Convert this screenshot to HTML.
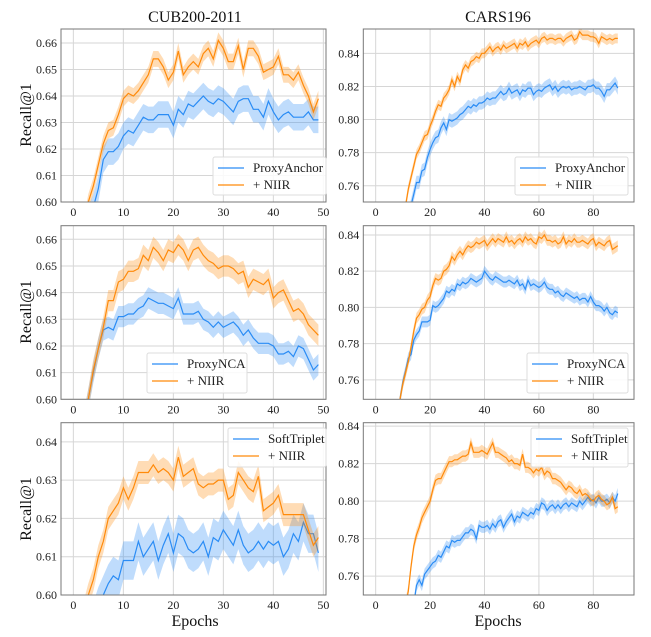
<!DOCTYPE html>
<html><head><meta charset="utf-8"><style>
html,body{margin:0;padding:0;background:#fff;width:651px;height:637px;overflow:hidden;}
svg{display:block;font-family:"Liberation Serif",serif;}
</style></head><body>
<svg id="chart" width="651" height="637" viewBox="0 0 651 637"></svg>
<script>
// ---- data ----
const cubEpochs = Array.from({length:50},(_,i)=>i);
const carsEpochs = Array.from({length:90},(_,i)=>i);
const cubTicksX = [0,10,20,30,40,50];
const carsTicksX = [0,20,40,60,80];
const cubTicksY12 = [0.60,0.61,0.62,0.63,0.64,0.65,0.66];
const cubTicksY3 = [0.60,0.61,0.62,0.63,0.64];
const carsTicksY = [0.76,0.78,0.80,0.82,0.84];

const cubPA = [0.55,0.57,0.585,0.593,0.598,0.605,0.616,0.619,0.619,0.621,0.625,0.627,0.626,0.629,0.632,0.631,0.631,0.633,0.633,0.633,0.629,0.635,0.633,0.637,0.636,0.638,0.640,0.638,0.637,0.639,0.638,0.636,0.634,0.638,0.639,0.639,0.635,0.635,0.632,0.638,0.634,0.631,0.633,0.634,0.632,0.632,0.632,0.634,0.631,0.631];
const cubPAnir = [0.56,0.58,0.59,0.600,0.606,0.614,0.622,0.627,0.628,0.633,0.639,0.641,0.640,0.642,0.645,0.648,0.654,0.654,0.651,0.646,0.649,0.657,0.648,0.651,0.653,0.651,0.656,0.658,0.654,0.661,0.658,0.653,0.653,0.659,0.650,0.658,0.658,0.655,0.649,0.650,0.651,0.655,0.648,0.648,0.646,0.649,0.644,0.640,0.634,0.639];
const cubNCA = [0.55,0.57,0.59,0.600,0.610,0.619,0.626,0.627,0.626,0.631,0.631,0.632,0.632,0.634,0.635,0.638,0.637,0.636,0.636,0.635,0.634,0.638,0.632,0.632,0.632,0.633,0.630,0.629,0.627,0.629,0.627,0.628,0.629,0.627,0.624,0.626,0.623,0.621,0.621,0.621,0.620,0.617,0.617,0.618,0.616,0.620,0.619,0.615,0.611,0.613];
const cubNCAnir = [0.55,0.57,0.59,0.600,0.611,0.619,0.627,0.637,0.637,0.644,0.645,0.648,0.648,0.649,0.654,0.652,0.657,0.655,0.652,0.656,0.655,0.658,0.656,0.652,0.656,0.657,0.654,0.652,0.651,0.649,0.650,0.650,0.649,0.647,0.648,0.642,0.645,0.644,0.643,0.645,0.638,0.640,0.641,0.637,0.633,0.634,0.632,0.628,0.626,0.624];
const cubST = [0.57,0.58,0.585,0.59,0.593,0.597,0.600,0.603,0.605,0.604,0.609,0.609,0.609,0.614,0.610,0.612,0.614,0.609,0.613,0.616,0.611,0.616,0.615,0.612,0.611,0.612,0.614,0.610,0.615,0.614,0.617,0.615,0.613,0.617,0.613,0.611,0.612,0.614,0.612,0.614,0.613,0.614,0.610,0.612,0.616,0.614,0.619,0.616,0.616,0.611];
const cubSTnir = [0.58,0.59,0.595,0.600,0.604,0.610,0.614,0.620,0.622,0.624,0.628,0.625,0.628,0.632,0.632,0.632,0.634,0.632,0.633,0.632,0.630,0.636,0.631,0.632,0.633,0.629,0.628,0.629,0.629,0.630,0.630,0.625,0.626,0.632,0.630,0.628,0.627,0.631,0.622,0.623,0.624,0.626,0.621,0.621,0.621,0.621,0.621,0.617,0.613,0.615];

const carsPA = [0.58,0.62,0.65,0.67,0.69,0.70,0.71,0.72,0.725,0.73,0.735,0.738,0.742,0.748,0.755,0.762,0.762,0.769,0.770,0.777,0.782,0.786,0.789,0.790,0.795,0.798,0.794,0.800,0.799,0.800,0.801,0.803,0.804,0.806,0.808,0.807,0.809,0.808,0.810,0.810,0.811,0.813,0.812,0.813,0.813,0.815,0.817,0.815,0.816,0.819,0.816,0.817,0.818,0.815,0.818,0.817,0.819,0.819,0.815,0.817,0.818,0.817,0.819,0.820,0.821,0.818,0.820,0.817,0.819,0.820,0.819,0.820,0.818,0.819,0.819,0.820,0.819,0.818,0.820,0.820,0.821,0.819,0.819,0.817,0.814,0.818,0.818,0.820,0.822,0.819];
const carsPAnir = [0.60,0.64,0.67,0.69,0.70,0.71,0.72,0.73,0.735,0.74,0.745,0.748,0.758,0.765,0.772,0.779,0.782,0.786,0.790,0.791,0.796,0.800,0.805,0.809,0.808,0.813,0.815,0.818,0.824,0.820,0.826,0.823,0.830,0.833,0.831,0.835,0.836,0.838,0.837,0.840,0.840,0.842,0.844,0.841,0.843,0.844,0.842,0.845,0.843,0.844,0.845,0.846,0.843,0.846,0.845,0.847,0.844,0.846,0.847,0.848,0.846,0.849,0.850,0.848,0.849,0.849,0.848,0.849,0.849,0.847,0.849,0.850,0.851,0.848,0.849,0.853,0.851,0.851,0.851,0.850,0.850,0.849,0.846,0.850,0.849,0.848,0.849,0.848,0.849,0.849];
const carsNCA = [0.55,0.59,0.62,0.65,0.67,0.69,0.71,0.725,0.738,0.750,0.759,0.765,0.772,0.774,0.782,0.785,0.787,0.792,0.792,0.792,0.793,0.801,0.800,0.801,0.803,0.805,0.809,0.808,0.810,0.809,0.813,0.812,0.814,0.813,0.814,0.816,0.815,0.814,0.815,0.816,0.820,0.818,0.816,0.815,0.817,0.816,0.815,0.814,0.814,0.815,0.814,0.813,0.815,0.812,0.813,0.810,0.815,0.812,0.813,0.812,0.811,0.812,0.814,0.811,0.810,0.810,0.808,0.809,0.807,0.806,0.808,0.807,0.806,0.805,0.806,0.804,0.805,0.805,0.803,0.806,0.803,0.801,0.801,0.800,0.798,0.800,0.797,0.796,0.798,0.797];
const carsNCAnir = [0.55,0.59,0.62,0.65,0.67,0.69,0.71,0.725,0.738,0.750,0.758,0.764,0.770,0.778,0.787,0.794,0.796,0.799,0.800,0.804,0.806,0.812,0.816,0.815,0.816,0.820,0.821,0.823,0.828,0.826,0.829,0.831,0.829,0.832,0.834,0.833,0.834,0.836,0.835,0.836,0.837,0.834,0.836,0.838,0.836,0.838,0.837,0.836,0.839,0.836,0.837,0.835,0.837,0.838,0.836,0.839,0.837,0.838,0.836,0.835,0.839,0.838,0.840,0.837,0.837,0.836,0.837,0.835,0.836,0.839,0.835,0.837,0.836,0.838,0.836,0.836,0.837,0.836,0.835,0.837,0.838,0.834,0.836,0.835,0.834,0.836,0.837,0.832,0.833,0.834];
const carsST = [0.40,0.45,0.50,0.54,0.58,0.61,0.64,0.66,0.68,0.70,0.71,0.72,0.73,0.738,0.745,0.755,0.758,0.755,0.761,0.763,0.765,0.767,0.768,0.771,0.770,0.773,0.776,0.775,0.779,0.778,0.779,0.779,0.781,0.783,0.783,0.785,0.784,0.780,0.787,0.786,0.786,0.787,0.785,0.788,0.786,0.789,0.790,0.786,0.789,0.791,0.793,0.789,0.792,0.791,0.794,0.793,0.792,0.794,0.793,0.796,0.795,0.799,0.798,0.795,0.797,0.798,0.796,0.798,0.796,0.798,0.799,0.797,0.799,0.798,0.797,0.800,0.798,0.800,0.802,0.800,0.801,0.799,0.802,0.800,0.800,0.801,0.799,0.802,0.800,0.804];
const carsSTnir = [0.45,0.50,0.55,0.59,0.62,0.65,0.67,0.69,0.71,0.73,0.740,0.745,0.752,0.765,0.776,0.782,0.786,0.791,0.794,0.797,0.800,0.806,0.811,0.812,0.812,0.815,0.818,0.821,0.821,0.822,0.822,0.823,0.824,0.824,0.825,0.831,0.826,0.826,0.826,0.827,0.826,0.825,0.828,0.831,0.826,0.826,0.825,0.824,0.823,0.821,0.822,0.820,0.820,0.819,0.825,0.818,0.818,0.817,0.815,0.817,0.816,0.818,0.814,0.816,0.815,0.812,0.812,0.811,0.810,0.808,0.806,0.808,0.807,0.805,0.804,0.806,0.803,0.804,0.803,0.801,0.800,0.802,0.803,0.801,0.800,0.798,0.799,0.802,0.796,0.797];

const bandCub = [0.005,0.003,0.004,0.004,0.005,0.003];
const bandCars = [0.004,0.003,0.003,0.003,0.003,0.003];

const BLUE='#2a8cf5', ORANGE='#ff8a0a';
const NS='http://www.w3.org/2000/svg';
const svg=document.getElementById('chart');
function mk(tag,attrs,parent){const e=document.createElementNS(NS,tag);for(const k in attrs)e.setAttribute(k,attrs[k]);(parent||svg).appendChild(e);return e;}

let clipId=0;
function panel(p){
  const g=mk('g',{});
  
  
  const sx=v=>p.L+(v-p.xmin)/(p.xmax-p.xmin)*(p.R-p.L);
  const sy=v=>p.B-(v-p.ymin)/(p.ymax-p.ymin)*(p.B-p.T);
  mk('rect',{x:p.L,y:p.T,width:p.R-p.L,height:p.B-p.T,fill:'#fff'},g);
  p.xt.forEach(t=>{const l=mk('line',{x1:sx(t),x2:sx(t),y1:p.T,y2:p.B,stroke:'#d6d6d6','stroke-width':1},g);
    
    const tx=mk('text',{x:sx(t),y:p.B+14,'font-size':12,'text-anchor':'middle',fill:'#222'},g);tx.textContent=t;
    });
  p.yt.forEach(t=>{const l=mk('line',{x1:p.L,x2:p.R,y1:sy(t),y2:sy(t),stroke:'#d6d6d6','stroke-width':1},g);
    
    const tx=mk('text',{x:p.L-4,y:sy(t)+4,'font-size':12,'text-anchor':'end',fill:'#222'},g);tx.textContent=t.toFixed(2);
    });
  const id='c'+(clipId++);
  const cp=mk('clipPath',{id:id},g);mk('rect',{x:p.L,y:p.T,width:p.R-p.L,height:p.B-p.T},cp);
  const dg=mk('g',{'clip-path':'url(#'+id+')'},g);
  p.series.forEach(s=>{
    let up='',lo=[];
    p.xs.forEach((x,i)=>{up+=(i?'L':'M')+sx(x).toFixed(1)+','+sy(s.v[i]+s.b).toFixed(1);lo.push('L'+sx(x).toFixed(1)+','+sy(s.v[i]-s.b).toFixed(1));});
    const band=mk('path',{d:up+lo.reverse().join('')+'Z',fill:s.c,'fill-opacity':0.3,stroke:'none'},dg);
    
    const d=p.xs.map((x,i)=>(i?'L':'M')+sx(x).toFixed(1)+','+sy(s.v[i]).toFixed(1)).join('');
    const ln=mk('path',{d:d,fill:'none',stroke:s.c,'stroke-width':1.2},dg);
    
  });
  mk('rect',{x:p.L,y:p.T,width:p.R-p.L,height:p.B-p.T,fill:'none',stroke:'#777','stroke-width':1},g);
  const lg=mk('g',{},g);
  
  const [lx,ly,lw,lh]=p.leg;
  mk('rect',{x:lx,y:ly,width:lw,height:lh,fill:'#fff','fill-opacity':0.85,stroke:'#ddd',rx:2},lg);
  p.series.forEach((s,i)=>{
    const yy=ly+11+i*17;
    mk('line',{x1:lx+5,x2:lx+31,y1:yy,y2:yy,stroke:s.c,'stroke-width':1.3},lg);
    const t=mk('text',{x:lx+40,y:yy+4,'font-size':13,fill:'#222'},lg);t.textContent=s.label;
    
  });
}
const rows=[{T:29,B:202},{T:225.7,B:399.3},{T:422.7,B:595}];
const Lx={L:61,R:326,xmin:-2.47,xmax:50.53};
const Rx={L:363.3,R:634,xmin:-4.55,xmax:94.95};
panel({name:'cub-proxyanchor-panel',...Lx,...rows[0],ymin:0.60,ymax:0.6653,xt:cubTicksX,yt:cubTicksY12,xs:cubEpochs,leg:[213,157,113,38],
  series:[{n:'proxyanchor',v:cubPA,b:bandCub[0],c:BLUE,label:'ProxyAnchor'},{n:'nir',v:cubPAnir,b:bandCub[1],c:ORANGE,label:'+ NIIR'}]});
panel({name:'cars-proxyanchor-panel',...Rx,...rows[0],ymin:0.7502,ymax:0.8547,xt:carsTicksX,yt:carsTicksY,xs:carsEpochs,leg:[515,157,113,38],
  series:[{n:'proxyanchor',v:carsPA,b:bandCars[0],c:BLUE,label:'ProxyAnchor'},{n:'nir',v:carsPAnir,b:bandCars[1],c:ORANGE,label:'+ NIIR'}]});
panel({name:'cub-proxynca-panel',...Lx,...rows[1],ymin:0.60,ymax:0.6651,xt:cubTicksX,yt:cubTicksY12,xs:cubEpochs,leg:[147,353,100,40],
  series:[{n:'proxynca',v:cubNCA,b:bandCub[2],c:BLUE,label:'ProxyNCA'},{n:'nir',v:cubNCAnir,b:bandCub[3],c:ORANGE,label:'+ NIIR'}]});
panel({name:'cars-proxynca-panel',...Rx,...rows[1],ymin:0.7493,ymax:0.8451,xt:carsTicksX,yt:carsTicksY,xs:carsEpochs,leg:[527,353,101,40],
  series:[{n:'proxynca',v:carsNCA,b:bandCars[2],c:BLUE,label:'ProxyNCA'},{n:'nir',v:carsNCAnir,b:bandCars[3],c:ORANGE,label:'+ NIIR'}]});
panel({name:'cub-softtriplet-panel',...Lx,...rows[2],ymin:0.60,ymax:0.645,xt:cubTicksX,yt:cubTicksY3,xs:cubEpochs,leg:[228,428,98,39],
  series:[{n:'softtriplet',v:cubST,b:bandCub[4],c:BLUE,label:'SoftTriplet'},{n:'nir',v:cubSTnir,b:bandCub[5],c:ORANGE,label:'+ NIIR'}]});
panel({name:'cars-softtriplet-panel',...Rx,...rows[2],ymin:0.7499,ymax:0.8418,xt:carsTicksX,yt:carsTicksY,xs:carsEpochs,leg:[531,428,97,39],
  series:[{n:'softtriplet',v:carsST,b:bandCars[4],c:BLUE,label:'SoftTriplet'},{n:'nir',v:carsSTnir,b:bandCars[5],c:ORANGE,label:'+ NIIR'}]});

function label(txt,x,y,size,name,rot){
  const t=mk('text',{x:x,y:y,'font-size':size,'text-anchor':'middle',fill:'#111'});
  if(rot)t.setAttribute('transform','rotate(-90 '+x+' '+y+')');
  t.textContent=txt;
  
  
}
label('CUB200-2011',195,22,16,'cub-title');
label('CARS196',498,22,16,'cars-title');
label('Recall@1',31,115,16,'y-axis-title-row1',true);
label('Recall@1',31,312,16,'y-axis-title-row2',true);
label('Recall@1',31,509,16,'y-axis-title-row3',true);
label('Epochs',195,626,16,'x-axis-title-cub');
label('Epochs',498,626,16,'x-axis-title-cars');
</script>
</body></html>
